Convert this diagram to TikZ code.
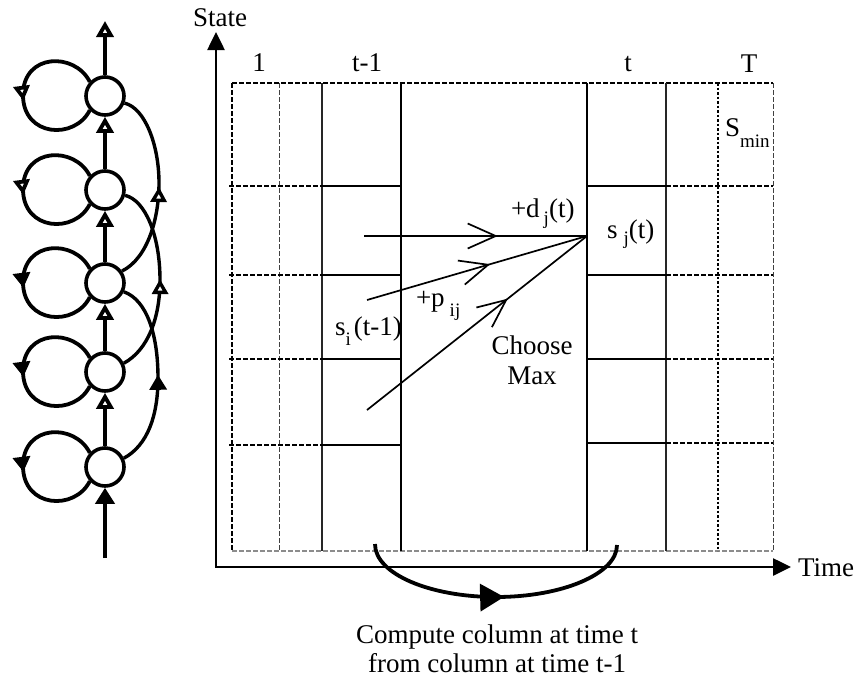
\documentclass[tikz,border=0pt]{standalone}
\usepackage{fontspec}
\setmainfont{Liberation Serif}
\usetikzlibrary{arrows.meta,decorations.markings,calc}
\newcommand{\lowsub}[2][7pt]{\raisebox{-#1}{\fontsize{19}{19}\selectfont #2}}
\begin{document}
\begin{tikzpicture}[x=1pt,y=-1pt,
  txt/.style={font=\fontsize{27}{30}\selectfont, inner sep=0pt, outer sep=0pt},
  st/.style={circle, draw, line width=3.6pt, minimum size=38pt, inner sep=0pt},
  thick3/.style={line width=3.8pt},
  openT/.style={-{Triangle[fill=white,length=16pt,width=17pt]}},
  fillT/.style={-{Triangle[length=16pt,width=19pt]}},
  markopen/.style={postaction={decorate}, decoration={markings, mark=at position #1 with {\arrow{Triangle[fill=white,length=15pt,width=16pt]}}}},
  markfill/.style={postaction={decorate}, decoration={markings, mark=at position #1 with {\arrow{Triangle[length=15pt,width=17pt]}}}},
  barb/.style={line width=1.7pt, postaction={decorate}, decoration={markings, mark=at position #1 with {\arrow{Straight Barb[length=28pt,width=25pt]}}}},
  bigmark/.style={line width=3.8pt, postaction={decorate}, decoration={markings, mark=at position #1 with {\arrow{Triangle[length=24pt,width=27pt]}}}},
  gdash/.style={line width=1.3pt, dash pattern=on 5pt off 2pt},
  gdashthin/.style={line width=1pt, dash pattern=on 5pt off 2pt, black!75},
  gdashgray/.style={line width=1.3pt, dash pattern=on 5pt off 2pt, black!45},
  gsolid/.style={line width=2pt},
  gsolidthin/.style={line width=1.5pt, black!85},
  gdot/.style={line width=2.4pt, dash pattern=on 2.5pt off 2pt},
  axis/.style={line width=2.6pt, line join=miter}
]
\useasboundingbox (0,0) rectangle (855,681);

% ---------- left state chain ----------
\node[st] (c1) at (105,96) {};
\node[st] (c2) at (105,190) {};
\node[st] (c3) at (105,283) {};
\node[st] (c4) at (105,372) {};
\node[st] (c5) at (105,467) {};
\coordinate (vtop) at (105,21);
\coordinate (vbot) at (105,558);

\draw[thick3, openT] (c1) -- (vtop);
\draw[thick3, openT] (c2) -- (c1);
\draw[thick3, openT] (c3) -- (c2);
\draw[thick3, openT] (c4) -- (c3);
\draw[thick3, openT] (c5) -- (c4);
\draw[thick3, fillT] (vbot) -- (c5);

% self loops
\draw[thick3, markopen=0.53] (c1.137) .. controls +(-15,-30) and +(0,-42) .. ([shift={(-82,-1)}]c1.center) .. controls +(0,42) and +(-15,30) .. (c1.223);
\draw[thick3, markopen=0.53] (c2.137) .. controls +(-15,-30) and +(0,-42) .. ([shift={(-82,-1)}]c2.center) .. controls +(0,42) and +(-15,30) .. (c2.223);
\draw[thick3, markfill=0.53] (c3.137) .. controls +(-15,-30) and +(0,-42) .. ([shift={(-82,-1)}]c3.center) .. controls +(0,42) and +(-15,30) .. (c3.223);
\draw[thick3, markfill=0.53] (c4.137) .. controls +(-15,-30) and +(0,-42) .. ([shift={(-82,-1)}]c4.center) .. controls +(0,42) and +(-15,30) .. (c4.223);
\draw[thick3, markfill=0.53] (c5.137) .. controls +(-15,-30) and +(0,-42) .. ([shift={(-82,-1)}]c5.center) .. controls +(0,42) and +(-15,30) .. (c5.223);

% skip arcs
\draw[line width=3.4pt, markopen=0.5] (c3.35) .. controls (148,258) and (159,218) .. (159,183) .. controls (159,145) and (145,108) .. (c1.-20);
\draw[line width=3.4pt, markopen=0.5] (c4.25) .. controls (148,350) and (160,318) .. (160,280) .. controls (160,235) and (145,200) .. (c2.-15);
\draw[line width=3.4pt, markfill=0.5] (c5.25) .. controls (148,445) and (158,415) .. (158,378) .. controls (158,335) and (147,300) .. (c3.-25);

% ---------- grid ----------
\draw[gdash] (232,83) -- (773,83);
\draw[gdash] (232,83) -- (232,551);
\draw[gdashgray] (232,551) -- (773,551);
\draw[gdashthin] (773,83) -- (773,551);
\draw[gdashthin] (279,83) -- (279,551);
\draw[gsolidthin] (322,83) -- (322,551);
\draw[gsolid] (401,83) -- (401,551);
\draw[gsolid] (587,83) -- (587,551);
\draw[gsolidthin] (666,83) -- (666,551);
\draw[gdot] (718,83) -- (718,551);
\foreach \yy in {186,275,359,445} {
  \draw[gdash] (229,\yy) -- (322,\yy);
  \draw[gsolid] (322,\yy) -- (401,\yy);
}
\foreach \yy in {186,275,359,443} {
  \draw[gsolid] (587,\yy) -- (666,\yy);
  \draw[gdash] (666,\yy) -- (773,\yy);
}

% ---------- axes ----------
\coordinate (O) at (216,567);
\coordinate (ytip) at (216,32);
\coordinate (xtip) at (791,567);
\draw[axis, {Triangle[length=18pt,width=17pt]}-{Triangle[length=18pt,width=17pt]}] (ytip) -- (O) -- (xtip);
\node[txt, anchor=base] (state) at (220,26) {State};
\node[txt, anchor=base west] (time) at (798,576) {Time};

% column labels
\node[txt, anchor=base] (lab1) at (259,71) {1};
\node[txt, anchor=base] (labtm) at (367,71) {t-1};
\node[txt, anchor=base] (labt) at (628,71) {t};
\node[txt, anchor=base] (labT) at (749,72) {T};
\node[txt, anchor=base west] (smin) at (725,136) {S\lowsub[11pt]{min}};

% ---------- transitions ----------
\coordinate (a1) at (364,236);
\coordinate (a2) at (367,300);
\coordinate (a3) at (367,410);
\coordinate (sjpt) at (587,236);
\draw[barb=0.6] (a1) -- (sjpt);
\draw[barb=0.56] (a2) -- (sjpt);
\draw[barb=0.64] (a3) -- (sjpt);

\node[txt, anchor=base west] (dj) at (511,217) {+d\hspace{4pt}\lowsub[7pt]{j}(t)};
\node[txt, anchor=base west] (sj) at (607,238) {s\hspace{6pt}\lowsub[6pt]{j}(t)};
\node[txt, anchor=base west] (si) at (335,335) {s\lowsub[10pt]{i}\hspace{3pt}(t-1)};
\node[txt, anchor=base west] (pij) at (416,306) {+p\hspace{5pt}\lowsub[10pt]{ij}};
\node[txt, align=center, anchor=base] (choose) at (532,384) {Choose\\Max};

% ---------- bottom arrow ----------
\coordinate (b1) at (375,544);
\coordinate (b2) at (617,545);
\draw[bigmark=0.53] (b1) .. controls (375,574) and (430,597) .. (496,597) .. controls (562,597) and (617,574) .. (b2);
\node[txt, font=\fontsize{27}{29}\selectfont, align=center, anchor=base] (compute) at (497,672) {Compute column at time t\\from column at time t-1};
\end{tikzpicture}
\end{document}
